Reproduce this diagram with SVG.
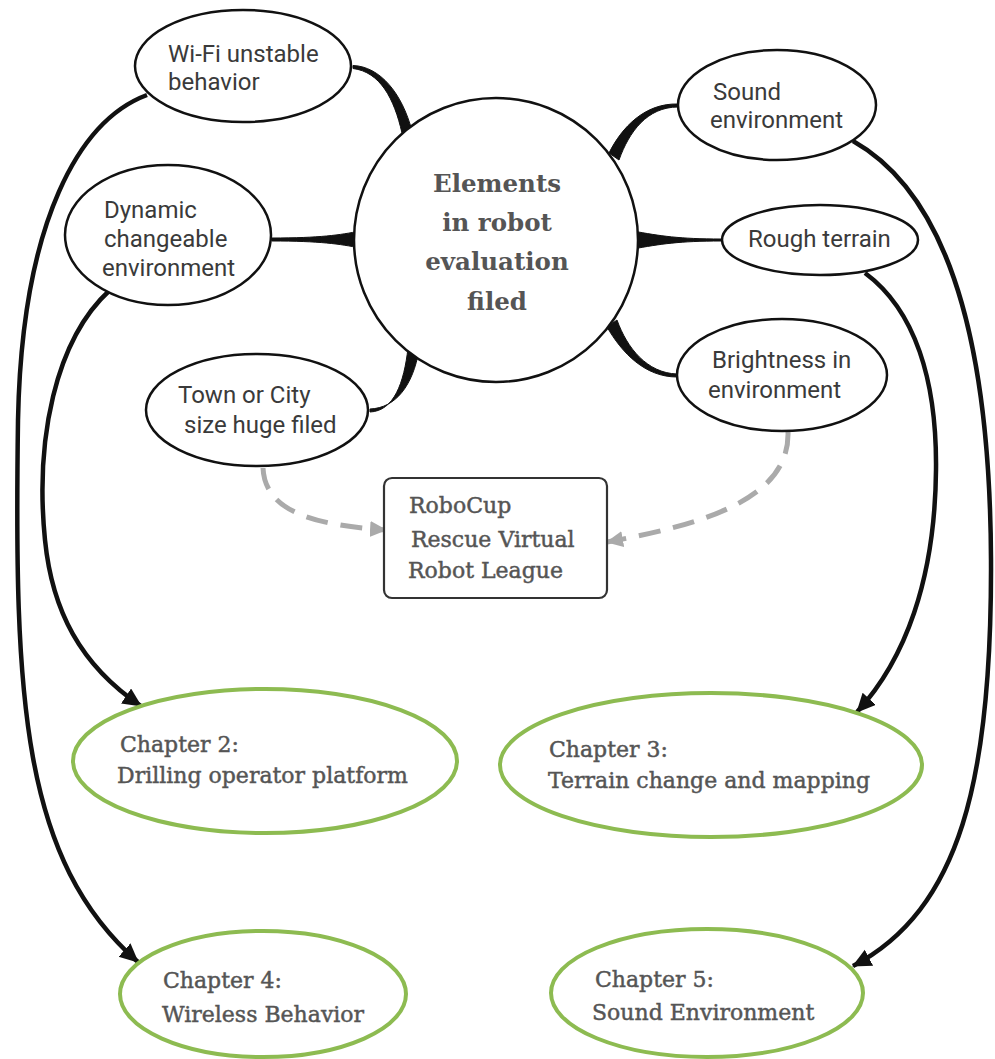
<svg xmlns="http://www.w3.org/2000/svg" width="995" height="1059" viewBox="0 0 995 1059">
<style>
.bg{fill:#ffffff}
.sm{fill:#ffffff;stroke:#111111;stroke-width:2.5}
.ctr{fill:#ffffff;stroke:#111111;stroke-width:2.5}
.ch{fill:#ffffff;stroke:#8dbb51;stroke-width:4}
.box{fill:#ffffff;stroke:#333333;stroke-width:2.2}
.t{font-family:Roboto,"Liberation Sans",sans-serif;font-size:24px;fill:#3a3a3a}
.s{font-family:"DejaVu Serif","Liberation Serif",serif;font-size:22px;fill:#555555;stroke:#555555;stroke-width:0.45}
.title{font-family:"DejaVu Serif","Liberation Serif",serif;font-size:24.5px;font-weight:bold;fill:#555555;text-anchor:middle}
.taper{fill:#111111;stroke:#111111;stroke-width:1}
.arr{fill:none;stroke:#111111;stroke-width:4.5}
.dash{fill:none;stroke:#aaaaaa;stroke-width:5;stroke-dasharray:22 13}
</style>
<defs>
<marker id="ah" markerUnits="userSpaceOnUse" markerWidth="22" markerHeight="20" refX="18" refY="9" orient="auto">
<path d="M0,0 L19,9 L0,18 z" fill="#111111"/>
</marker>
<marker id="ahg" markerUnits="userSpaceOnUse" markerWidth="20" markerHeight="20" refX="16" refY="8" orient="auto">
<path d="M0,0 L17,8 L0,16 z" fill="#aaaaaa"/>
</marker>
</defs>
<rect class="bg" x="0" y="0" width="995" height="1059"/>
<g id="connectors">
<path class="taper" d="M353,65.5 C380,66.5 402,93 412,131 L402,133 C394,98 380,72 353,68.5 Z"/>
<path class="taper" d="M272,238 C320,238 340,235 360,231 L360,248 C340,244 320,241 272,241 Z"/>
<path class="taper" d="M370,409 C396,408 413,385 419,350 L408,348 C404,383 394,411 370,412 Z"/>
<path class="taper" d="M678,104 C645,103 622,127 609,153 L619,160 C629,132 647,107 678,107 Z"/>
<path class="taper" d="M721,239 C680,239 660,236 633,231 L633,249 C660,244 680,241 721,241 Z"/>
<path class="taper" d="M677,374 C647,373 627,348 617,320 L607,327 C622,353 645,377 677,377 Z"/>
<path class="arr" marker-end="url(#ah)" d="M147,95 C80,120 22,220 18,420 C14,700 22,860 138,962"/>
<path class="arr" marker-end="url(#ah)" d="M110,290 C55,340 35,440 45,540 C52,610 80,665 141,706"/>
<path class="arr" marker-end="url(#ah)" d="M865,273 C915,310 937,380 936,470 C935,580 905,660 857,712"/>
<path class="arr" marker-end="url(#ah)" d="M853,141 C940,190 990,320 991,560 C992,780 960,910 853,966"/>
<path class="dash" marker-end="url(#ahg)" d="M263,468 C265,510 310,525 386,530"/>
<path class="dash" marker-end="url(#ahg)" d="M788,432 C790,500 700,525 607,542"/>
</g>
<g id="center">
<circle class="ctr" cx="496" cy="240" r="142"/>
<text class="title" x="497" y="192">Elements</text>
<text class="title" x="497" y="231">in robot</text>
<text class="title" x="497" y="270">evaluation</text>
<text class="title" x="497" y="310">filed</text>
</g>
<g id="wifi">
<ellipse class="sm" cx="243" cy="66" rx="108" ry="56"/>
<text class="t" x="168" y="62">Wi-Fi unstable</text>
<text class="t" x="168" y="90">behavior</text>
</g>
<g id="dynamic">
<ellipse class="sm" cx="168" cy="235" rx="103" ry="70"/>
<text class="t" x="104" y="218">Dynamic</text>
<text class="t" x="104" y="247">changeable</text>
<text class="t" x="102" y="276">environment</text>
</g>
<g id="town">
<ellipse class="sm" cx="257" cy="410" rx="111" ry="56"/>
<text class="t" x="178" y="403">Town or City</text>
<text class="t" x="184" y="433">size huge filed</text>
</g>
<g id="sound">
<ellipse class="sm" cx="777" cy="105" rx="99" ry="55"/>
<text class="t" x="713" y="100">Sound</text>
<text class="t" x="710" y="128">environment</text>
</g>
<g id="rough">
<ellipse class="sm" cx="820" cy="240" rx="98" ry="35"/>
<text class="t" x="748" y="247">Rough terrain</text>
</g>
<g id="brightness">
<ellipse class="sm" cx="782" cy="375" rx="105" ry="56"/>
<text class="t" x="712" y="368">Brightness in</text>
<text class="t" x="708" y="398">environment</text>
</g>
<g id="robocup">
<rect class="box" x="384" y="478" width="223" height="120" rx="8" ry="8"/>
<text class="s" x="409" y="513">RoboCup</text>
<text class="s" x="411" y="547">Rescue Virtual</text>
<text class="s" x="408" y="578">Robot League</text>
</g>
<g id="ch2">
<ellipse class="ch" cx="265" cy="761" rx="192" ry="72"/>
<text class="s" x="120" y="752">Chapter 2:</text>
<text class="s" x="117" y="783">Drilling operator platform</text>
</g>
<g id="ch3">
<ellipse class="ch" cx="711" cy="765" rx="211" ry="72"/>
<text class="s" x="549" y="757">Chapter 3:</text>
<text class="s" x="548" y="788">Terrain change and mapping</text>
</g>
<g id="ch4">
<ellipse class="ch" cx="263" cy="994" rx="143" ry="63"/>
<text class="s" x="163" y="988">Chapter 4:</text>
<text class="s" x="162" y="1022">Wireless Behavior</text>
</g>
<g id="ch5">
<ellipse class="ch" cx="707" cy="993" rx="156" ry="64"/>
<text class="s" x="595" y="987">Chapter 5:</text>
<text class="s" x="592" y="1020">Sound Environment</text>
</g>
</svg>
